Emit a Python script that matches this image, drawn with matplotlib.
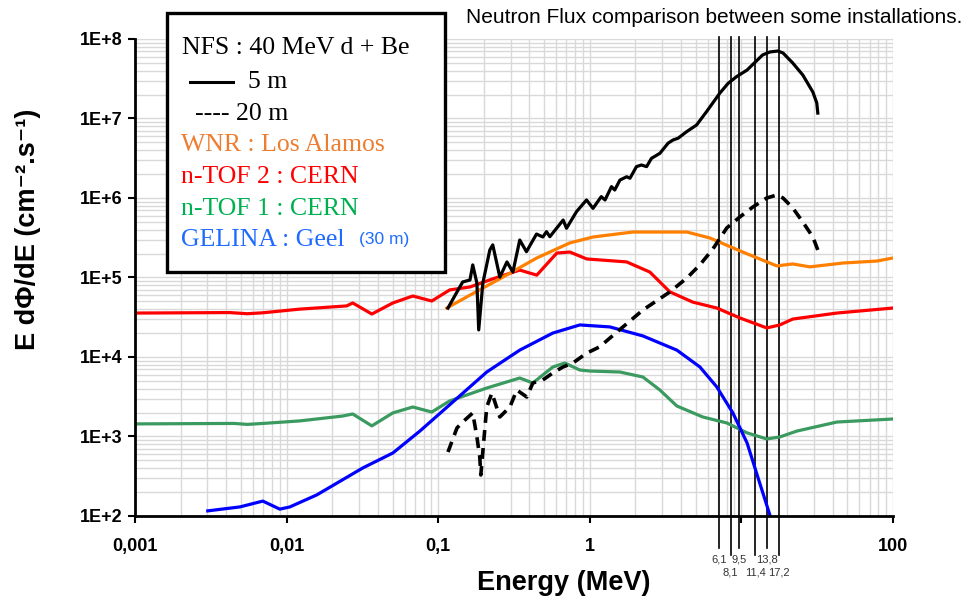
import matplotlib
matplotlib.use("Agg")
import matplotlib.pyplot as plt
from matplotlib.ticker import FixedLocator, LogLocator, NullFormatter
from matplotlib.patches import Rectangle
from matplotlib.lines import Line2D

# --- data (energy in MeV, flux E dPhi/dE) ---
ntof2_e = [0.001, 0.00422, 0.0055, 0.007, 0.0122, 0.0249, 0.0273, 0.0365, 0.0502, 0.068,
           0.0907, 0.119, 0.162, 0.229, 0.345, 0.447, 0.606, 0.738, 0.955, 1.75, 2.49,
           3.37, 4.78, 6.88, 9.76, 14.7, 17.9, 21.8, 42.6, 100]
ntof2_f = [3.57e4, 3.62e4, 3.50e4, 3.6e4, 4.0e4, 4.39e4, 4.78e4, 3.47e4, 4.78e4, 5.85e4,
           5.06e4, 6.97e4, 7.6e4, 9.6e4, 1.24e5, 1.07e5, 2.03e5, 2.09e5, 1.71e5, 1.57e5,
           1.17e5, 6.6e4, 4.9e4, 4.13e4, 3.1e4, 2.32e4, 2.53e4, 3.0e4, 3.57e4, 4.13e4]

ntof1_e = [0.001, 0.0045, 0.0055, 0.007, 0.0122, 0.0235, 0.0273, 0.0365, 0.0502, 0.068,
           0.0907, 0.119, 0.209, 0.345, 0.421, 0.570, 0.684, 0.859, 1.0, 1.58, 2.24, 2.9,
           3.75, 5.56, 8.01, 10.9, 14.7, 17.9, 23.2, 42.6, 100]
ntof1_f = [1.44e3, 1.46e3, 1.42e3, 1.46e3, 1.57e3, 1.81e3, 1.92e3, 1.36e3, 1.98e3, 2.35e3,
           2.03e3, 2.8e3, 4.07e3, 5.44e3, 4.71e3, 7.48e3, 8.4e3, 6.86e3, 6.66e3, 6.47e3,
           5.6e3, 3.84e3, 2.42e3, 1.76e3, 1.48e3, 1.11e3, 931, 986, 1.17e3, 1.52e3, 1.66e3]

wnr_e = [0.114, 0.162, 0.267, 0.447, 0.738, 1.05, 1.92, 4.37, 6.19, 10.2, 17.1, 21.8,
         28.3, 46.6, 78.2, 100]
wnr_f = [4.13e4, 6.0e4, 1.01e5, 1.76e5, 2.72e5, 3.23e5, 3.73e5, 3.73e5, 3.14e5, 2.09e5,
         1.40e5, 1.48e5, 1.36e5, 1.52e5, 1.61e5, 1.76e5]

gelina_e = [0.00302, 0.00491, 0.00697, 0.00902, 0.0105, 0.0158, 0.0318, 0.0502, 0.0757,
            0.125, 0.209, 0.345, 0.570, 0.859, 1.355, 2.24, 3.75, 5.32, 6.88, 8.78, 10.9,
            13.2, 15.4]
gelina_f = [116, 130, 154, 122, 130, 184, 402, 620, 1.17e3, 2.72e3, 6.47e3, 1.22e4, 2.0e4,
            2.53e4, 2.39e4, 1.84e4, 1.22e4, 7.5e3, 4.2e3, 1.98e3, 828, 260, 103]

nfs5_e = [0.116, 0.133, 0.145, 0.162, 0.169, 0.180, 0.185, 0.197, 0.219, 0.229, 0.255,
          0.284, 0.311, 0.345, 0.382, 0.445, 0.490, 0.518, 0.545, 0.667, 0.702, 0.817,
          0.951, 1.05, 1.19, 1.26, 1.39, 1.46, 1.58, 1.75, 1.84, 2.03, 2.19, 2.37, 2.55,
          2.90, 3.28, 3.54, 3.82, 4.35, 5.06, 5.89, 7.20, 8.17, 9.29, 10.9, 13.8, 15.4,
          17.4, 18.8, 21.8, 25.4, 29.6, 31.4, 31.9]
nfs5_f = [4.13e4, 6.58e4, 8.78e4, 9.3e4, 1.44e5, 8.5e4, 2.19e4, 8.5e4, 2.22e5, 2.57e5,
          1.01e5, 1.57e5, 1.17e5, 2.96e5, 2.11e5, 3.52e5, 3.23e5, 3.77e5, 3.26e5, 5.28e5,
          4.16e5, 6.73e5, 9.44e5, 7.41e5, 1.04e6, 9.44e5, 1.39e6, 1.26e6, 1.68e6, 1.85e6,
          1.77e6, 2.48e6, 2.60e6, 2.48e6, 3.15e6, 3.65e6, 4.88e6, 5.37e6, 5.64e6, 6.82e6,
          8.28e6, 1.22e7, 2.08e7, 2.77e7, 3.36e7, 4.07e7, 6.3e7, 6.86e7, 7.06e7, 6.67e7,
          4.99e7, 3.52e7, 2.15e7, 1.57e7, 1.17e7]

nfs20_e = [0.116, 0.133, 0.145, 0.169, 0.180, 0.188, 0.191, 0.209, 0.226, 0.255, 0.297,
           0.330, 0.384, 0.421, 0.490, 0.570, 0.664, 0.773, 0.955, 1.16, 1.51, 2.24, 3.37,
           4.37, 5.32, 6.48, 8.01, 9.76, 11.9, 14.7, 17.1, 18.8, 21.8, 25.4, 29.6, 31.9]
nfs20_f = [638, 1.28e3, 1.52e3, 1.98e3, 986, 552, 328, 2.35e3, 3.52e3, 1.76e3, 2.35e3,
           3.84e3, 3.14e3, 4.71e3, 5.14e3, 6.3e3, 7.48e3, 8.4e3, 1.12e4, 1.34e4, 2.06e4,
           3.9e4, 6.58e4, 9.86e4, 1.44e5, 2.28e5, 4.2e5, 5.77e5, 7.7e5, 1.0e6, 1.09e6,
           1.0e6, 7.5e5, 4.99e5, 3.23e5, 2.22e5]

# reference energies (line position, label as printed)
ref_e = [7.1, 8.5, 9.6, 12.3, 14.7, 17.6]
ref_labels = ["6,1", "8,1", "9,5", "11,4", "13,8", "17,2"]

x_ticks = [0.001, 0.01, 0.1, 1, 10, 100]
x_ticklabels = ["0,001", "0,01", "0,1", "1", "", "100"]
y_ticks = [1e2, 1e3, 1e4, 1e5, 1e6, 1e7, 1e8]
y_ticklabels = ["1E+2", "1E+3", "1E+4", "1E+5", "1E+6", "1E+7", "1E+8"]

SANS = "Liberation Sans"
SERIF = "Liberation Serif"

fig = plt.figure(figsize=(9.69, 6.10), dpi=100)
ax = fig.add_axes([0.1393, 0.1541, 0.7823, 0.782])

ax.set_xscale("log")
ax.set_yscale("log")
ax.set_xlim(1e-3, 1e2)
ax.set_ylim(1e2, 1e8)

# grid
ax.xaxis.set_minor_locator(LogLocator(base=10, subs=range(2, 10)))
ax.yaxis.set_minor_locator(LogLocator(base=10, subs=range(2, 10)))
ax.xaxis.set_minor_formatter(NullFormatter())
ax.yaxis.set_minor_formatter(NullFormatter())
ax.grid(True, which="both", color="#d9d9d9", linewidth=1.0, zorder=0)
ax.set_axisbelow(True)

lw = 2.3
ax.plot(ntof2_e, ntof2_f, color="#ff0000", lw=lw, zorder=3)
ax.plot(ntof1_e, ntof1_f, color="#3a9a60", lw=lw, zorder=3)
ax.plot(wnr_e, wnr_f, color="#ff7f00", lw=lw, zorder=3)
ax.plot(gelina_e, gelina_f, color="#0000ff", lw=lw, zorder=3)
ax.plot(nfs5_e, nfs5_f, color="black", lw=lw, zorder=4)
ax.plot(nfs20_e, nfs20_f, color="black", lw=2.6, ls=(0, (3, 2)), zorder=4)

# reference vertical lines with labels below the axis
xtr = ax.get_xaxis_transform()
for i, (e, lab) in enumerate(zip(ref_e, ref_labels)):
    low = -0.067 if i % 2 == 0 else -0.082
    ax.plot([e, e], [low, 1.004], color="black", lw=1.2, transform=xtr,
            clip_on=False, zorder=2)
    ty = -0.091 if i % 2 == 0 else -0.118
    ax.text(e, ty, lab, transform=xtr, ha="center", va="center",
            fontsize=8, color="#333333", family=SANS)

# axes style
for s in ["top", "right"]:
    ax.spines[s].set_visible(False)
for s in ["left", "bottom"]:
    ax.spines[s].set_linewidth(2.0)
    ax.spines[s].set_zorder(5)

ax.xaxis.set_major_locator(FixedLocator(x_ticks))
ax.set_xticklabels(x_ticklabels)
ax.yaxis.set_major_locator(FixedLocator(y_ticks))
ax.set_yticklabels(y_ticklabels)
ax.tick_params(which="major", direction="out", length=5, width=1.5, color="black")
ax.tick_params(axis="x", which="major", pad=11)
ax.tick_params(axis="y", which="major", pad=4)
ax.tick_params(which="minor", length=0)
for lab in ax.get_xticklabels() + ax.get_yticklabels():
    lab.set_fontfamily(SANS)
    lab.set_fontweight("bold")
    lab.set_fontsize(13)

ax.set_xlabel("Energy (MeV)", fontsize=19.5, fontweight="bold", family=SANS)
ax.xaxis.set_label_coords(0.565, -0.14)
ax.xaxis.label.set_va("center")
ax.set_ylabel("E d\u03a6/dE (cm\u207b\u00b2.s\u207b\u00b9)",
              fontsize=19.5, fontweight="bold", family=[SANS, "DejaVu Sans"])
ax.yaxis.set_label_coords(-0.141, 0.6)
ax.yaxis.label.set_va("center")

# title top right
fig.text(0.9928, 0.972, "Neutron Flux comparison between some installations.",
         ha="right", va="center", fontsize=15, family=SANS, color="black")

# legend-like text box
box = Rectangle((0.1723, 0.5541), 0.2869, 0.4246, transform=fig.transFigure,
                facecolor="white", edgecolor="black", linewidth=2.4, zorder=10)
fig.patches.append(box)
fs = 18.5
fig.text(0.1875, 0.9213, "NFS : 40 MeV d + Be", fontsize=fs, family=SERIF,
         color="black", va="center", ha="left", zorder=11)
fig.lines.append(Line2D([0.196, 0.2405], [0.8656, 0.8656], transform=fig.transFigure,
                        color="black", lw=2.2, zorder=11))
fig.text(0.256, 0.8656, "5 m", fontsize=fs, family=SERIF, va="center", ha="left", zorder=11)
fig.text(0.2012, 0.8131, "---- 20 m", fontsize=fs, family=SERIF, va="center", ha="left",
         zorder=11)
fig.text(0.1868, 0.7623, "WNR : Los Alamos", fontsize=fs, family=SERIF, color="#ed7d31",
         va="center", ha="left", zorder=11)
fig.text(0.1868, 0.7098, "n-TOF 2 : CERN", fontsize=fs, family=SERIF, color="#ff0000",
         va="center", ha="left", zorder=11)
fig.text(0.1868, 0.6574, "n-TOF 1 : CERN", fontsize=fs, family=SERIF, color="#00b050",
         va="center", ha="left", zorder=11)
fig.text(0.1868, 0.6066, "GELINA : Geel", fontsize=fs, family=SERIF, color="#1f6bff",
         va="center", ha="left", zorder=11)
fig.text(0.3705, 0.6066, "(30 m)", fontsize=12.5, family=SANS, color="#1f6bff",
         va="center", ha="left", zorder=11)

fig.savefig("out.png", dpi=100)
